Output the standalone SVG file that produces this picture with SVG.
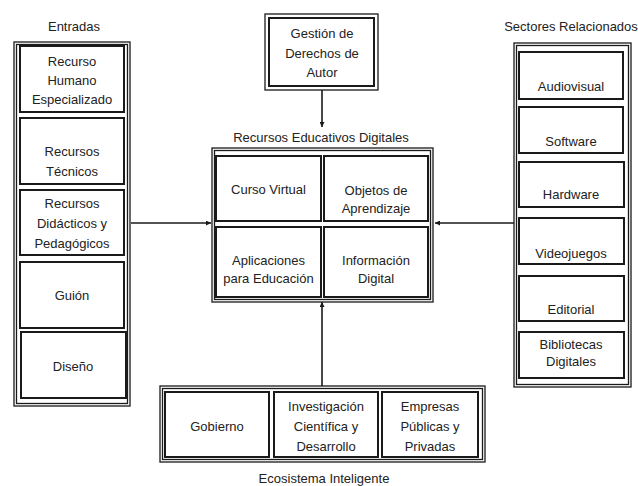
<svg xmlns="http://www.w3.org/2000/svg" width="638" height="486" viewBox="0 0 638 486">
<defs>
<style>
.bg{fill:#fff}
.o{fill:none;stroke:#1a1a1a;stroke-width:1.3}
.c{fill:#fff;stroke:#1a1a1a;stroke-width:2}
.t{font-family:"Liberation Sans",Arial,sans-serif;font-size:13px;fill:#222;text-anchor:middle}
.ln{stroke:#1a1a1a;stroke-width:1.6;fill:none}
</style>
<marker id="ah" viewBox="0 0 10 10" refX="10" refY="5" markerWidth="5" markerHeight="5" orient="auto" markerUnits="userSpaceOnUse">
<path d="M0,0 L10,5 L0,10 z" fill="#1a1a1a"/>
</marker>
</defs>
<rect class="bg" x="0" y="0" width="638" height="486"/>

<g id="connectors">
<line class="ln" x1="131" y1="223" x2="211" y2="223" marker-end="url(#ah)"/>
<line class="ln" x1="514" y1="223" x2="435" y2="223" marker-end="url(#ah)"/>
<line class="ln" x1="322" y1="90" x2="322" y2="127" marker-end="url(#ah)"/>
<line class="ln" x1="322" y1="386" x2="322" y2="302" marker-end="url(#ah)"/>
</g>

<g id="entradas">
<text class="t" x="74" y="30.5">Entradas</text>
<rect class="o" x="14" y="42" width="116" height="364"/>
<rect class="o" x="16.5" y="44.5" width="111" height="359"/>
<g id="recurso-humano">
<rect class="c" x="20" y="46" width="104" height="66"/>
<text class="t" x="72" y="65.5">Recurso</text>
<text class="t" x="72" y="84.5">Humano</text>
<text class="t" x="72" y="103.5">Especializado</text>
</g>
<g id="recursos-tecnicos">
<rect class="c" x="20" y="118" width="104" height="66"/>
<text class="t" x="72" y="155.5">Recursos</text>
<text class="t" x="72" y="175.5">Técnicos</text>
</g>
<g id="recursos-didacticos">
<rect class="c" x="20" y="190" width="104" height="65"/>
<text class="t" x="72" y="207.5">Recursos</text>
<text class="t" x="72" y="227.5">Didácticos y</text>
<text class="t" x="72" y="247.5">Pedagógicos</text>
</g>
<g id="guion">
<rect class="c" x="20" y="262" width="104" height="66"/>
<text class="t" x="72" y="299.5">Guión</text>
</g>
<g id="diseno">
<rect class="c" x="21" y="332" width="105" height="66"/>
<text class="t" x="73" y="370.5">Diseño</text>
</g>
</g>

<g id="gestion">
<rect class="o" x="265" y="14" width="113" height="76"/>
<rect class="c" x="269" y="18" width="105" height="68"/>
<text class="t" x="322" y="37.5">Gestión de</text>
<text class="t" x="322" y="57.5">Derechos de</text>
<text class="t" x="322" y="76.5">Autor</text>
</g>

<g id="recursos-educativos">
<text class="t" x="321" y="141.5">Recursos Educativos Digitales</text>
<rect class="o" x="212" y="148" width="221" height="154"/>
<rect class="o" x="214.5" y="150.5" width="216" height="149"/>
<g id="curso-virtual">
<rect class="c" x="216" y="156" width="105" height="65"/>
<text class="t" x="268.5" y="193.5">Curso Virtual</text>
</g>
<g id="objetos">
<rect class="c" x="324" y="156" width="104" height="65"/>
<text class="t" x="376" y="195">Objetos de</text>
<text class="t" x="376" y="213">Aprendizaje</text>
</g>
<g id="aplicaciones">
<rect class="c" x="216" y="227" width="105" height="70"/>
<text class="t" x="268.5" y="264.5">Aplicaciones</text>
<text class="t" x="268.5" y="282.5">para Educación</text>
</g>
<g id="informacion">
<rect class="c" x="324" y="227" width="104" height="70"/>
<text class="t" x="376" y="264.5">Información</text>
<text class="t" x="376" y="282.5">Digital</text>
</g>
</g>

<g id="sectores">
<text class="t" x="571" y="30.5">Sectores Relacionados</text>
<rect class="o" x="514" y="43" width="117" height="344"/>
<rect class="o" x="516.5" y="45.5" width="112" height="339"/>
<g id="audiovisual">
<rect class="c" x="519" y="52" width="104" height="47"/>
<text class="t" x="571" y="90.5">Audiovisual</text>
</g>
<g id="software">
<rect class="c" x="519" y="107" width="104" height="46"/>
<text class="t" x="571" y="145.5">Software</text>
</g>
<g id="hardware">
<rect class="c" x="519" y="162" width="105" height="45"/>
<text class="t" x="571" y="198.5">Hardware</text>
</g>
<g id="videojuegos">
<rect class="c" x="519" y="218" width="105" height="46"/>
<text class="t" x="571" y="257.5">Videojuegos</text>
</g>
<g id="editorial">
<rect class="c" x="519" y="276" width="105" height="45"/>
<text class="t" x="571" y="313.5">Editorial</text>
</g>
<g id="bibliotecas">
<rect class="c" x="519" y="332" width="105" height="46"/>
<text class="t" x="571" y="348.5">Bibliotecas</text>
<text class="t" x="571" y="365.5">Digitales</text>
</g>
</g>

<g id="ecosistema">
<rect class="o" x="160" y="386" width="325" height="76"/>
<rect class="o" x="162.5" y="388.5" width="320" height="71"/>
<g id="gobierno">
<rect class="c" x="165" y="392" width="104" height="65"/>
<text class="t" x="217" y="430.5">Gobierno</text>
</g>
<g id="investigacion">
<rect class="c" x="274" y="392" width="104" height="65"/>
<text class="t" x="326" y="410.5">Investigación</text>
<text class="t" x="326" y="431">Científica y</text>
<text class="t" x="326" y="450.5">Desarrollo</text>
</g>
<g id="empresas">
<rect class="c" x="382" y="392" width="96" height="65"/>
<text class="t" x="430" y="410.5">Empresas</text>
<text class="t" x="430" y="431">Públicas y</text>
<text class="t" x="430" y="450.5">Privadas</text>
</g>
<text class="t" x="324" y="482.5">Ecosistema Inteligente</text>
</g>
</svg>
